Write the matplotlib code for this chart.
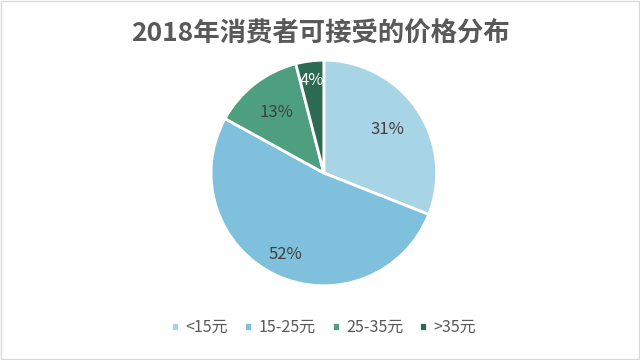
import numpy as np
import matplotlib.pyplot as plt
from matplotlib.patches import Rectangle

plt.rcParams['font.family'] = ['Noto Sans CJK SC', 'DejaVu Sans']

categories = ['<15元', '15-25元', '25-35元', '>35元']
shares = [31, 52, 13, 4]
colors = ['#a8d5e5', '#7fc1dc', '#4e9f7f', '#2d6a54']
label_colors = ['#404040', '#404040', '#404040', '#ffffff']
label_dist = [0.68, 0.8, 0.68, 0.83]


def main():
    fig = plt.figure(figsize=(6.4, 3.6), dpi=100)
    fig.patch.set_facecolor('white')
    fig.patches.append(Rectangle((0.001, 0.002), 0.997, 0.995, transform=fig.transFigure,
                                 fill=False, edgecolor='#d9d9d9', linewidth=1))

    ax = fig.add_axes([0.328, 0.203, 0.356, 0.633])
    wedges, _ = ax.pie(shares, colors=colors, startangle=90, counterclock=False,
                       wedgeprops=dict(edgecolor='white', linewidth=2))
    ax.set_xlim(-1.01, 1.01)
    ax.set_ylim(-1.01, 1.01)
    ax.set_aspect('equal')

    for w, v, d, c in zip(wedges, shares, label_dist, label_colors):
        ang = np.deg2rad((w.theta1 + w.theta2) / 2)
        ax.text(d * np.cos(ang), d * np.sin(ang), f'{v}%', ha='center', va='center',
                fontsize=12, color=c)

    fig.text(0.5, 0.905, '2018年消费者可接受的价格分布', ha='center', va='center',
             fontsize=19, fontweight='bold', color='#595959')

    fig.legend(wedges, categories, loc='center', bbox_to_anchor=(0.506, 0.09), ncol=4,
               frameon=False, fontsize=11.5, labelcolor='#595959', handlelength=0.5,
               handleheight=0.5, handletextpad=0.4, columnspacing=1.0)

    fig.savefig('out.png', dpi=100)
    plt.close(fig)


if __name__ == '__main__':
    main()
